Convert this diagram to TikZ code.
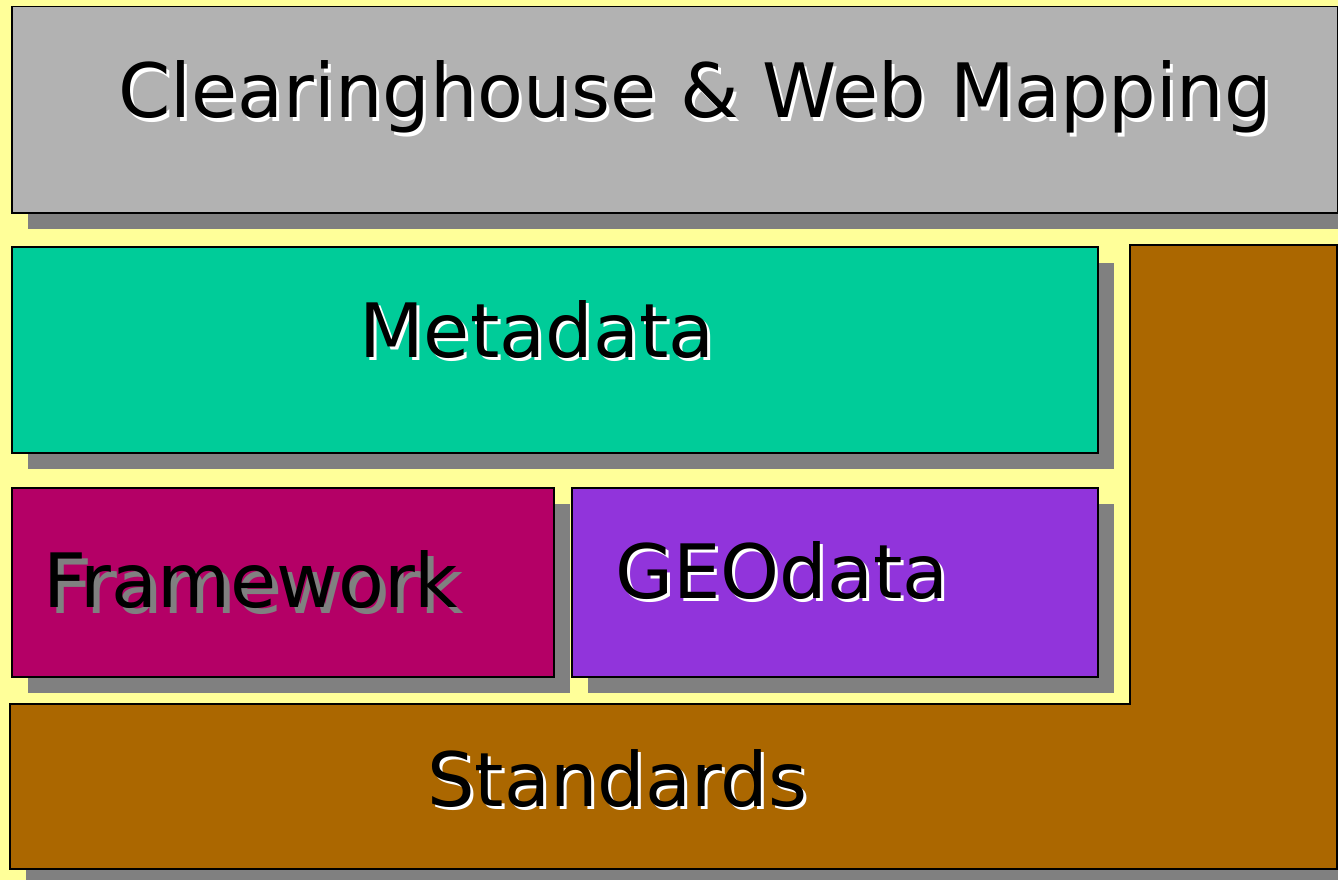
\documentclass[tikz,border=0pt]{standalone}
\usepackage{fontspec}
\setmainfont{DejaVu Sans}
\usetikzlibrary{shadows}

\definecolor{paper}{HTML}{FFFF99}
\definecolor{dropgray}{HTML}{808080}
\definecolor{clearfill}{HTML}{B2B2B2}
\definecolor{metafill}{HTML}{00CC99}
\definecolor{framefill}{HTML}{B40066}
\definecolor{geofill}{HTML}{9134DB}
\definecolor{stdfill}{HTML}{AB6700}

\tikzset{
  layer/.style={draw=black, line width=1.5pt, inner sep=0pt, anchor=north west,
    drop shadow={shadow xshift=16pt, shadow yshift=-16pt, fill=dropgray, opacity=1}},
  lbl/.style={inner sep=0pt, anchor=base west, font=\fontsize{75}{80}\selectfont}
}

% embossed text: shadow colour, offset, text
\newcommand{\embossed}[3]{%
  \rlap{\hspace{#2}\raisebox{-#2}{\textcolor{#1}{#3}}}#3}

\begin{document}
\begin{tikzpicture}[x=1pt,y=-1pt]
\fill[paper] (0,0) rectangle (1338,880);
\useasboundingbox (0,0) rectangle (1338,880);

% bottom layer wraps round the right side
\draw[layer, fill=stdfill] (10,704) -- (1130,704) -- (1130,245) -- (1337,245)
  -- (1337,869) -- (10,869) -- cycle;

\node[layer, fill=clearfill, minimum width=1326pt, minimum height=206pt] (clear) at (11,6) {};
\node[layer, fill=metafill, minimum width=1086pt, minimum height=206pt] (meta) at (11,246) {};
\node[layer, fill=framefill, minimum width=542pt, minimum height=189pt] (frame) at (11,487) {};
\node[layer, fill=geofill, minimum width=526pt, minimum height=189pt] (geo) at (571,487) {};

\node[lbl] (cleartxt) at (118,118) {\embossed{white}{3pt}{Clearinghouse \& Web Mapping}};
\node[lbl] (metatxt) at (359,357) {\embossed{white}{3pt}{Metadata}};
\node[lbl] (frametxt) at (43,607) {\embossed{dropgray}{6pt}{Framework}};
\node[lbl] (geotxt) at (615,598) {\embossed{white}{3pt}{GEOdata}};
\node[lbl] (stdtxt) at (427,806) {\embossed{white}{3pt}{Standards}};
\end{tikzpicture}
\end{document}
